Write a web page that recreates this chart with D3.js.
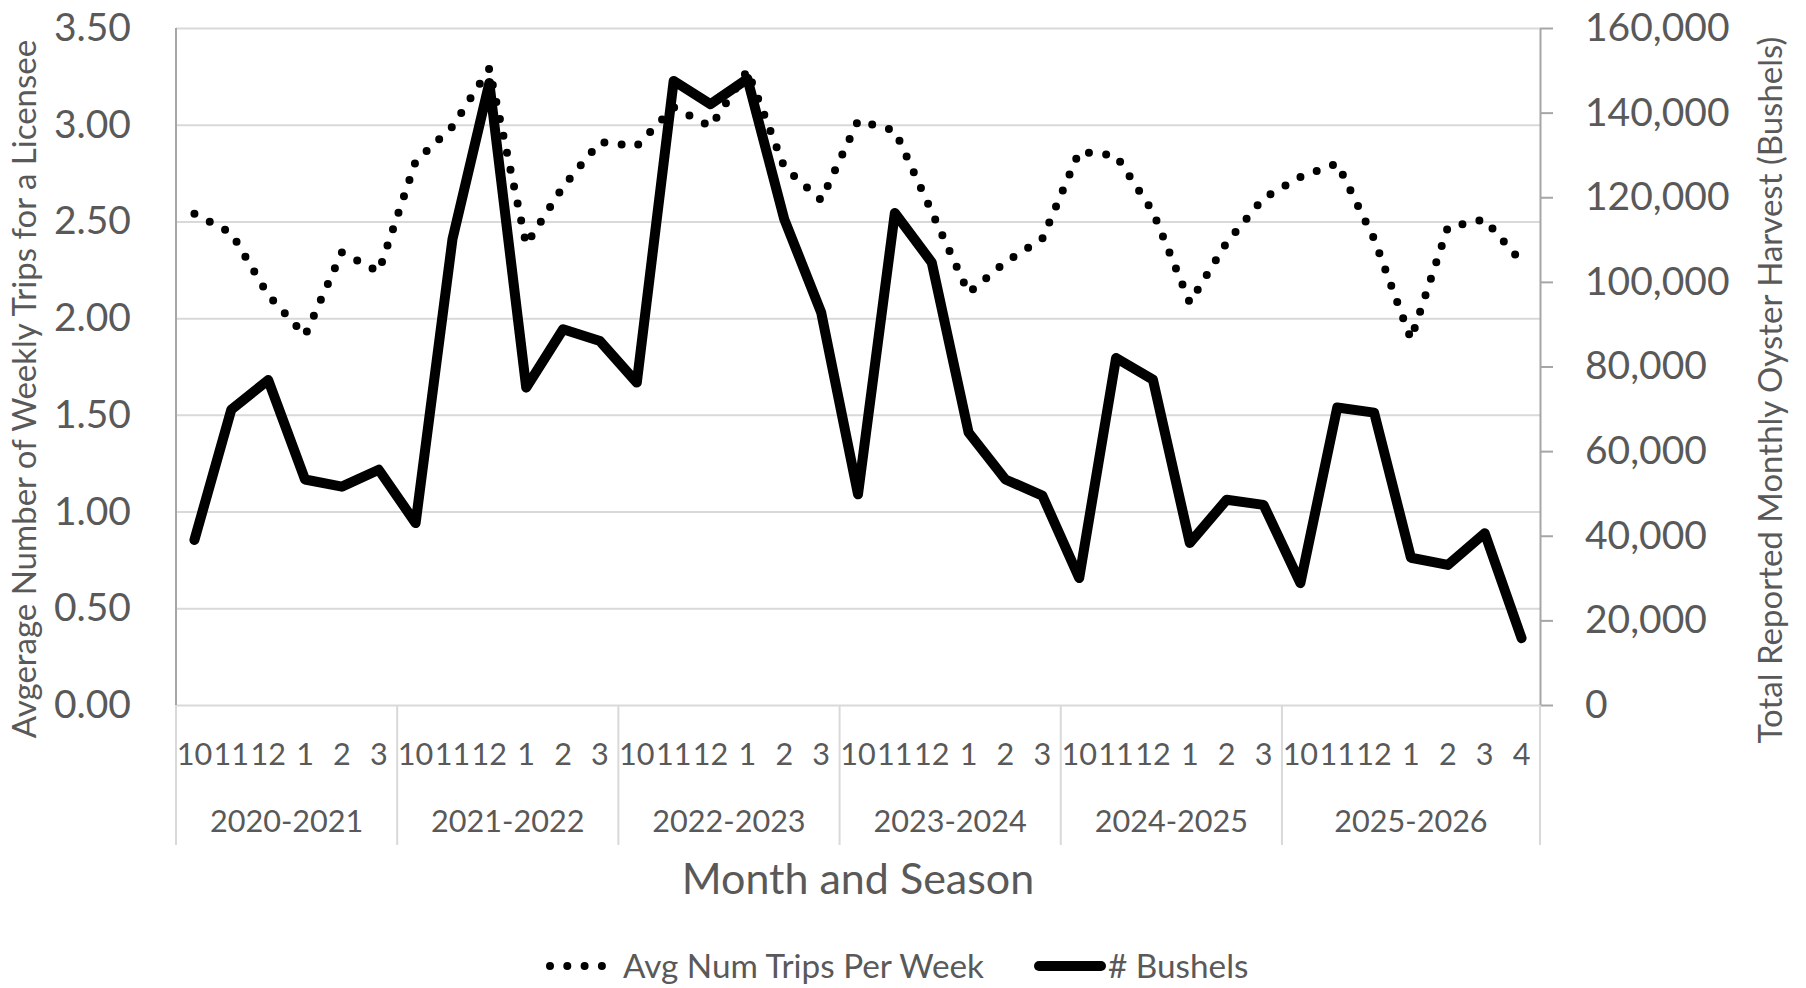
<!DOCTYPE html>
<html>
<head>
<meta charset="utf-8">
<script src="https://cdn.jsdelivr.net/npm/d3@7"></script>
<style>
  html, body { margin: 0; padding: 0; background: #fff; }
  svg { display: block; font-family: Lato, "Open Sans", sans-serif; }
</style>
</head>
<body>
<div id="chart"></div>
<script>
// season labels and the months shown under each
var seasons = ["2020-2021", "2021-2022", "2022-2023", "2023-2024", "2024-2025", "2025-2026"];
var seasonMonths = [
  [10, 11, 12, 1, 2, 3],
  [10, 11, 12, 1, 2, 3],
  [10, 11, 12, 1, 2, 3],
  [10, 11, 12, 1, 2, 3],
  [10, 11, 12, 1, 2, 3],
  [10, 11, 12, 1, 2, 3, 4]
];

// Avg Num Trips Per Week (left axis)
var trips = [2.54, 2.44, 2.12, 1.91, 2.34, 2.24,
             2.81, 2.99, 3.29, 2.38, 2.68, 2.91,
             2.89, 3.09, 2.99, 3.28, 2.78, 2.61,
             3.02, 2.97, 2.55, 2.13, 2.29, 2.41,
             2.86, 2.84, 2.55, 2.08, 2.39, 2.62,
             2.73, 2.80, 2.41, 1.89, 2.47, 2.51, 2.29];

// # Bushels (right axis)
var bushels = [39000, 69800, 76800, 53300, 51600, 55600,
               43000, 110100, 147000, 75000, 88800, 86000,
               76200, 147500, 142000, 148000, 114800, 92800,
               49800, 116300, 104600, 64400, 53300, 49500,
               30000, 82000, 76900, 38300, 48500, 47300,
               28800, 70300, 69100, 34800, 33100, 40600, 15800];

var leftTicks = [0, 0.5, 1, 1.5, 2, 2.5, 3, 3.5];
var rightTicks = [0, 20000, 40000, 60000, 80000, 100000, 120000, 140000, 160000];

var labelGray = "#595959";
var gridGray = "#d9d9d9";
var axisGray = "#a6a6a6";

var W = 1806, H = 988;
var x0 = 176, x1 = 1540, yTop = 28, yBot = 705, catBot = 845;

var svg = d3.select("#chart").append("svg").attr("width", W).attr("height", H);

// flatten categories
var cats = [];
seasonMonths.forEach(function(ms, s) {
  ms.forEach(function(m) { cats.push({ season: s, month: m }); });
});

var x = d3.scaleBand().domain(d3.range(cats.length)).range([x0, x1]).padding(0);
var bw = x.bandwidth();
var yL = d3.scaleLinear().domain([0, 3.5]).range([yBot, yTop]);
var yR = d3.scaleLinear().domain([0, 160000]).range([yBot, yTop]);

// gridlines
var grid = svg.append("g").attr("transform", "translate(" + x0 + ",0)")
  .call(d3.axisLeft(yL).tickValues(leftTicks).tickSize(-(x1 - x0)).tickFormat(""));
grid.select(".domain").remove();
grid.selectAll("line").attr("stroke", gridGray).attr("stroke-width", 2);

// left axis labels
var leftAxis = svg.append("g").attr("transform", "translate(" + x0 + ",0)")
  .call(d3.axisLeft(yL).tickValues(leftTicks).tickSize(0).tickPadding(45).tickFormat(d3.format(".2f")));
leftAxis.select(".domain").remove();
leftAxis.selectAll("text").attr("font-size", 39).attr("fill", labelGray).attr("font-family", "Lato");

// left axis line
svg.append("line").attr("x1", x0).attr("x2", x0).attr("y1", yTop).attr("y2", yBot)
  .attr("stroke", axisGray).attr("stroke-width", 2);

// right axis
var rightAxis = svg.append("g").attr("transform", "translate(" + x1 + ",0)")
  .call(d3.axisRight(yR).tickValues(rightTicks).tickSize(13).tickSizeOuter(0).tickPadding(32).tickFormat(d3.format(",")));
rightAxis.select(".domain").attr("stroke", axisGray).attr("stroke-width", 2);
rightAxis.selectAll("line").attr("stroke", axisGray).attr("stroke-width", 2);
rightAxis.selectAll("text").attr("font-size", 39).attr("fill", labelGray).attr("font-family", "Lato");

// category separators
var bounds = [0];
seasonMonths.forEach(function(ms) { bounds.push(bounds[bounds.length - 1] + ms.length); });
svg.append("g").selectAll("line").data(bounds).enter().append("line")
  .attr("x1", function(d) { return d < cats.length ? x(d) : x1; })
  .attr("x2", function(d) { return d < cats.length ? x(d) : x1; })
  .attr("y1", yBot).attr("y2", catBot)
  .attr("stroke", gridGray).attr("stroke-width", 2);

// month labels
svg.append("g").selectAll("text").data(cats).enter().append("text")
  .attr("x", function(d, i) { return x(i) + bw / 2; })
  .attr("y", 765)
  .attr("text-anchor", "middle")
  .attr("font-size", 30.6).attr("fill", labelGray)
  .text(function(d) { return d.month; });

// season labels
svg.append("g").selectAll("text").data(seasons).enter().append("text")
  .attr("x", function(d, s) {
    var a = bounds[s], b = bounds[s + 1];
    return (x(a) + x(b - 1) + bw) / 2;
  })
  .attr("y", 832)
  .attr("text-anchor", "middle")
  .attr("font-size", 30.6).attr("fill", labelGray)
  .text(function(d) { return d; });

// axis titles
svg.append("text").attr("x", (x0 + x1) / 2).attr("y", 894).attr("text-anchor", "middle")
  .attr("font-size", 43).attr("fill", labelGray).text("Month and Season");

svg.append("text").attr("transform", "translate(36,389) rotate(-90)").attr("text-anchor", "middle")
  .attr("font-size", 33).attr("fill", labelGray).text("Avgerage Number of Weekly Trips for a Licensee");

svg.append("text").attr("transform", "translate(1782,390) rotate(-90)").attr("text-anchor", "middle")
  .attr("font-size", 33).attr("fill", labelGray).text("Total Reported Monthly Oyster Harvest (Bushels)");

// series
var lineTrips = d3.line().x(function(d, i) { return x(i) + bw / 2; }).y(function(d) { return yL(d); });
var lineBushels = d3.line().x(function(d, i) { return x(i) + bw / 2; }).y(function(d) { return yR(d); });

svg.append("path").datum(trips).attr("d", lineTrips)
  .attr("fill", "none").attr("stroke", "#000").attr("stroke-width", 8)
  .attr("stroke-linecap", "round").attr("stroke-dasharray", "0 17.3");

svg.append("path").datum(bushels).attr("d", lineBushels)
  .attr("fill", "none").attr("stroke", "#000").attr("stroke-width", 10)
  .attr("stroke-linejoin", "round").attr("stroke-linecap", "round");

// legend
var legY = 966;
svg.append("line").attr("x1", 550).attr("x2", 602).attr("y1", legY).attr("y2", legY)
  .attr("stroke", "#000").attr("stroke-width", 8).attr("stroke-linecap", "round")
  .attr("stroke-dasharray", "0 17.3");
svg.append("text").attr("x", 623).attr("y", legY + 12).attr("font-size", 33.3).attr("fill", labelGray)
  .text("Avg Num Trips Per Week");
svg.append("line").attr("x1", 1039).attr("x2", 1101).attr("y1", legY).attr("y2", legY)
  .attr("stroke", "#000").attr("stroke-width", 10).attr("stroke-linecap", "round");
svg.append("text").attr("x", 1108).attr("y", legY + 12).attr("font-size", 33.3).attr("fill", labelGray)
  .text("# Bushels");
</script>
</body>
</html>
